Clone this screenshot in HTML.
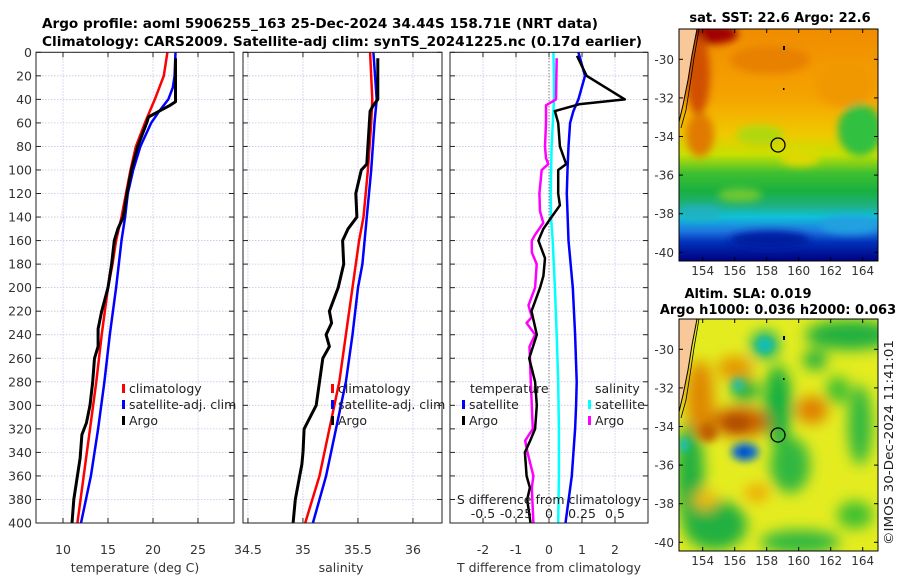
<!DOCTYPE html>
<html><head><meta charset="utf-8"><style>
html,body{margin:0;padding:0;background:#fff;}
svg{display:block;font-family:"DejaVu Sans","Liberation Sans",sans-serif;}
</style></head><body>
<svg id="fig" width="900" height="580" viewBox="0 0 900 580" xmlns="http://www.w3.org/2000/svg">
<defs>
<filter id="blur4" x="-50%" y="-50%" width="200%" height="200%"><feGaussianBlur stdDeviation="4"/></filter>
<filter id="blur7" x="-50%" y="-50%" width="200%" height="200%"><feGaussianBlur stdDeviation="7"/></filter>
<clipPath id="clipSST"><rect x="679" y="29" width="199" height="232"/></clipPath>
<clipPath id="clipSLA"><rect x="679" y="319" width="199" height="232"/></clipPath>
<linearGradient id="sstGrad" x1="0" y1="0" x2="0" y2="1">
<stop offset="0" stop-color="#f08c00"/><stop offset="0.3" stop-color="#f5a400"/>
<stop offset="0.45" stop-color="#f0c800"/><stop offset="0.54" stop-color="#c8e000"/>
<stop offset="0.62" stop-color="#40c030"/><stop offset="0.7" stop-color="#18b040"/>
<stop offset="0.76" stop-color="#20b080"/>
<stop offset="0.81" stop-color="#10c0d8"/><stop offset="0.87" stop-color="#1e78e0"/>
<stop offset="0.92" stop-color="#0030b8"/><stop offset="1" stop-color="#000080"/>
</linearGradient>
</defs>
<g font-weight="bold" font-size="13">
<text x="42" y="28" textLength="556" lengthAdjust="spacingAndGlyphs">Argo profile: aoml 5906255_163 25-Dec-2024 34.44S 158.71E (NRT data)</text>
<text x="42" y="46" textLength="600" lengthAdjust="spacingAndGlyphs">Climatology: CARS2009. Satellite-adj clim: synTS_20241225.nc (0.17d earlier)</text>
</g>
<g id="panels"></g>

<!-- SST map -->
<g>
<text x="780" y="22" text-anchor="middle" font-weight="bold" font-size="13">sat. SST: 22.6 Argo: 22.6</text>
<g clip-path="url(#clipSST)">
<rect x="679" y="29" width="199" height="232" fill="url(#sstGrad)"/>
<g filter="url(#blur4)">
<ellipse cx="712" cy="34" rx="26" ry="10" fill="#a00000"/>
<ellipse cx="698" cy="75" rx="12" ry="40" fill="#d05000"/>
<ellipse cx="700" cy="135" rx="14" ry="22" fill="#e07a00"/>
<ellipse cx="770" cy="60" rx="40" ry="14" fill="#e88000"/>
<ellipse cx="845" cy="85" rx="30" ry="22" fill="#f09800"/>
<ellipse cx="760" cy="135" rx="24" ry="10" fill="#b0d810"/>
<ellipse cx="860" cy="130" rx="22" ry="26" fill="#30c040"/>
<ellipse cx="800" cy="158" rx="20" ry="8" fill="#e0d800"/>
<ellipse cx="740" cy="195" rx="22" ry="7" fill="#70c830"/>
<ellipse cx="700" cy="213" rx="22" ry="7" fill="#20b0c0"/>
<ellipse cx="770" cy="240" rx="40" ry="9" fill="#001aa0"/>
<ellipse cx="850" cy="225" rx="30" ry="9" fill="#20a0e0"/>
</g>
<polygon points="679,29 697,29 692,55 688,80 683,105 679,120" fill="#f8c898"/>
<polyline points="697,29 692,55 688,80 683,105 679,122" fill="none" stroke="#000" stroke-width="1"/>
<polyline points="699,29 694,58 690,85 686,110 681,128" fill="none" stroke="#000" stroke-width="0.8"/>
<rect x="783" y="46" width="2" height="4" fill="#000"/><rect x="783" y="88" width="1.5" height="2" fill="#000"/>
<circle cx="778" cy="145" r="7" fill="none" stroke="#000" stroke-width="1.3"/>
</g>
<rect x="679" y="29" width="199" height="232" fill="none" stroke="#000" stroke-width="1"/>
<g id="sstAxes" font-size="12" fill="#333"></g>
</g>

<!-- SLA map -->
<g>
<text x="748" y="298" text-anchor="middle" font-weight="bold" font-size="13">Altim. SLA: 0.019</text>
<text x="778" y="314" text-anchor="middle" font-weight="bold" font-size="13">Argo h1000: 0.036 h2000: 0.063</text>
<g clip-path="url(#clipSLA)">
<rect x="679" y="319" width="199" height="232" fill="#e4ec20"/>
<g filter="url(#blur7)">
<ellipse cx="850" cy="335" rx="45" ry="15" fill="#20b040"/>
<ellipse cx="815" cy="360" rx="12" ry="10" fill="#20b040"/>
<ellipse cx="765" cy="345" rx="14" ry="14" fill="#10b070"/>
<ellipse cx="745" cy="390" rx="14" ry="12" fill="#20b040"/>
<ellipse cx="778" cy="405" rx="14" ry="40" fill="#18b040"/>
<ellipse cx="790" cy="465" rx="20" ry="28" fill="#30b840"/>
<ellipse cx="690" cy="475" rx="14" ry="55" fill="#20b040"/>
<ellipse cx="715" cy="525" rx="32" ry="25" fill="#20b040"/>
<ellipse cx="860" cy="425" rx="12" ry="40" fill="#30b840"/>
<ellipse cx="838" cy="390" rx="12" ry="14" fill="#40c030"/>
<ellipse cx="800" cy="542" rx="40" ry="12" fill="#30b840"/>
<ellipse cx="855" cy="515" rx="18" ry="14" fill="#40c030"/>
<ellipse cx="700" cy="398" rx="14" ry="38" fill="#e08800"/>
<ellipse cx="740" cy="422" rx="30" ry="15" fill="#c86000"/>
<ellipse cx="735" cy="368" rx="18" ry="12" fill="#e49800"/>
<ellipse cx="812" cy="410" rx="16" ry="14" fill="#e08000"/>
<ellipse cx="757" cy="493" rx="12" ry="8" fill="#f0a000"/>
<ellipse cx="705" cy="500" rx="12" ry="10" fill="#f0b800"/>
</g>
<g filter="url(#blur4)">
<ellipse cx="745" cy="452" rx="14" ry="9" fill="#1070d0"/>
<ellipse cx="744" cy="452" rx="5" ry="4" fill="#0030c0"/>
<ellipse cx="765" cy="345" rx="8" ry="7" fill="#10c0c0"/>
<ellipse cx="738" cy="385" rx="6" ry="6" fill="#10c0b0"/>
<ellipse cx="684" cy="445" rx="5" ry="7" fill="#10c0c0"/>
<ellipse cx="708" cy="432" rx="10" ry="10" fill="#c06000"/>
<ellipse cx="737" cy="423" rx="12" ry="7" fill="#b05000"/>
</g>
<polygon points="679,319 697,319 692,345 688,370 683,395 679,410" fill="#f8c898"/>
<polyline points="697,319 692,345 688,370 683,395 679,412" fill="none" stroke="#000" stroke-width="1"/>
<polyline points="699,319 694,348 690,375 686,400 681,418" fill="none" stroke="#000" stroke-width="0.8"/>
<rect x="783" y="336" width="2" height="4" fill="#000"/><rect x="783" y="378" width="1.5" height="2" fill="#000"/>
<circle cx="778" cy="435" r="7" fill="none" stroke="#000" stroke-width="1.3"/>
</g>
<rect x="679" y="319" width="199" height="232" fill="none" stroke="#000" stroke-width="1"/>
<g id="slaAxes" font-size="12" fill="#333"></g>
</g>
<text transform="translate(893,545) rotate(-90)" font-size="12.5" fill="#222" textLength="205" lengthAdjust="spacingAndGlyphs">©IMOS 30-Dec-2024 11:41:01</text>
</svg>
<script>
// ---- data ----
const depthTicks = [0,20,40,60,80,100,120,140,160,180,200,220,240,260,280,300,320,340,360,380,400];
const tempTicks = [10,15,20,25];
const salTicks = [34.5,35,35.5,36];
const salTickLabels = ["34.5","35","35.5","36"];
const diffTTicks = [-2,-1,0,1,2];
const diffSTicks = [-0.5,-0.25,0,0.25,0.5];
const diffSTickLabels = ["-0.5","-0.25","0","0.25","0.5"];

const climTDepth = [0,20,40,60,80,100,120,140,160,180,200,240,280,320,360,400];
const climTValues = [21.6,21.2,20.2,19.1,18.1,17.5,17.0,16.5,15.9,15.5,15.0,14.3,13.7,13.0,12.3,11.6];
const satTDepth = [0,20,30,40,50,60,80,100,120,140,160,180,200,240,280,320,360,400];
const satTValues = [22.5,22.4,22.2,21.7,20.7,19.8,18.6,17.8,17.2,16.9,16.5,16.2,15.9,15.2,14.6,13.9,13.1,12.0];
const argoTDepth = [5,40,42,45,50,55,60,80,100,120,140,150,160,180,200,220,235,250,260,280,300,315,325,345,360,380,400];
const argoTValues = [22.5,22.5,22.5,21.9,20.7,19.5,19.3,18.3,17.6,17.1,16.7,16.1,15.7,15.4,15.0,14.3,13.9,13.9,13.5,13.3,13.0,12.6,12.1,11.9,11.6,11.2,11.0];

const climSDepth = [0,40,60,100,140,160,200,240,280,320,360,400];
const climSValues = [35.61,35.63,35.62,35.59,35.55,35.51,35.45,35.39,35.33,35.24,35.15,35.02];
const satSDepth = [0,40,60,100,140,180,200,240,280,320,360,400];
const satSValues = [35.64,35.67,35.65,35.62,35.58,35.54,35.50,35.45,35.39,35.30,35.21,35.09];
const argoSDepth = [5,40,45,50,80,95,100,120,140,150,160,180,200,220,230,240,250,260,280,300,320,340,350,360,380,400];
const argoSValues = [35.68,35.68,35.64,35.61,35.59,35.58,35.53,35.48,35.49,35.41,35.36,35.37,35.32,35.24,35.26,35.21,35.24,35.18,35.15,35.12,35.01,35.0,34.99,34.97,34.93,34.91];

const dTsatDepth = [0,20,40,50,60,80,100,120,160,200,240,280,300,320,360,400];
const dTsatValues = [0.89,1.09,0.89,0.74,0.64,0.59,0.56,0.54,0.59,0.72,0.79,0.84,0.82,0.79,0.69,0.50];
const dTargoDepth = [3,20,40,44,50,60,80,95,100,120,130,140,150,160,175,190,200,220,240,260,280,300,320,330,340,360,370,380,400];
const dTargoValues = [0.85,1.14,2.3,0.94,0.18,0.28,0.33,0.52,0.28,0.28,0.33,0.08,-0.17,-0.32,-0.12,-0.17,-0.27,-0.53,-0.37,-0.60,-0.42,-0.37,-0.42,-0.57,-0.73,-0.68,-0.58,-0.66,-0.56];
const dSsatDepth = [0,20,40,80,120,140,160,200,240,280,320,360,400];
const dSsatValues = [0.033,0.038,0.038,0.020,0.013,0.015,0.028,0.045,0.058,0.070,0.075,0.075,0.070];
const dSargoDepth = [5,40,45,60,80,90,95,100,120,135,145,155,160,170,180,200,215,225,230,240,250,280,300,320,330,340,360,370,400];
const dSargoValues = [0.058,0.053,-0.023,-0.023,-0.030,-0.023,-0.005,-0.055,-0.073,-0.068,-0.043,-0.105,-0.13,-0.13,-0.093,-0.105,-0.155,-0.13,-0.17,-0.105,-0.148,-0.138,-0.13,-0.123,-0.18,-0.163,-0.118,-0.13,-0.118];

const latTicks = [-30,-32,-34,-36,-38,-40];
const lonTicks = [154,156,158,160,162,164];

// ---- drawing ----
const NS = "http://www.w3.org/2000/svg";
const root = document.getElementById('panels');
function el(tag, attrs, parent){ const e=document.createElementNS(NS,tag); for(const k in attrs) e.setAttribute(k,attrs[k]); (parent||root).appendChild(e); return e; }
const Y0=52.3, Y1=523;
function yDepth(d){ return Y0 + d/400*(Y1-Y0); }
function mkX(p){ return v => p.x0 + (v-p.xmin)/(p.xmax-p.xmin)*(p.x1-p.x0); }

const P1={x0:36,x1:234,xmin:7,xmax:29};
const P2={x0:243,x1:442,xmin:34.455,xmax:36.264};
const P3={x0:450,x1:648,xmin:-3,xmax:3};
const P3S={x0:450,x1:648,xmin:-0.75,xmax:0.75};

function frame(p, name, xt, xlabels, gridTicks){
  const sx=mkX(p);
  const g=el('g',{});
  
  
  depthTicks.forEach(d=>{
    const y=yDepth(d);
    el('line',{x1:p.x0,x2:p.x1,y1:y,y2:y,stroke:'#c4c4e4','stroke-width':0.8,'stroke-dasharray':'1.5,1.5'},g);
    el('line',{x1:p.x0,x2:p.x0+5,y1:y,y2:y,stroke:'#222'},g);
    el('line',{x1:p.x1-5,x2:p.x1,y1:y,y2:y,stroke:'#222'},g);
  });
  gridTicks.forEach(v=>{
    const x=sx(v);
    el('line',{x1:x,x2:x,y1:Y0,y2:Y1,stroke:'#c4c4e4','stroke-width':0.8,'stroke-dasharray':'1.5,1.5'},g);
    el('line',{x1:x,x2:x,y1:Y0,y2:Y0+5,stroke:'#222'},g);
    el('line',{x1:x,x2:x,y1:Y1-5,y2:Y1,stroke:'#222'},g);
  });
  xt.forEach((v,i)=>{
    const t=el('text',{x:sx(v),y:554,'text-anchor':'middle','font-size':12.5,fill:'#333'},g);
    t.textContent=xlabels[i];
    
    
  });
  return {g,sx};
}
function line(g, sx, depths, vals, color, w, name){
  const pts=depths.map((d,i)=>sx(vals[i]).toFixed(1)+','+yDepth(d).toFixed(1)).join(' ');
  const pl=el('polyline',{points:pts,fill:'none',stroke:color,'stroke-width':w,'stroke-linejoin':'round'},g);
  
  
}
function legend(g,x,y,color,label,name){
  const lg=el('g',{},g);
  
  
  el('rect',{x:x,y:y-9,width:3,height:9,fill:color},lg);
  const t=el('text',{x:x+7,y:y,'font-size':12.5,fill:'#222'},lg); t.textContent=label;
}

// Panel 1
let f=frame(P1,'temperature-panel',tempTicks,tempTicks.map(String),tempTicks);
line(f.g,f.sx,climTDepth,climTValues,'#ff0000',2.5,'temperature-climatology-line');
line(f.g,f.sx,satTDepth,satTValues,'#0000ff',2.5,'temperature-satellite-line');
line(f.g,f.sx,argoTDepth,argoTValues,'#000',3,'temperature-argo-line');
depthTicks.forEach(d=>{ const t=el('text',{x:32,y:yDepth(d)+4.5,'text-anchor':'end','font-size':12.5,fill:'#333'},f.g); t.textContent=d;
    });
let t=el('text',{x:135,y:572,'text-anchor':'middle','font-size':12.5,fill:'#333'},f.g); t.textContent='temperature (deg C)';
 
legend(f.g,122,393,'#ff0000','climatology','legend-climatology');
legend(f.g,122,409,'#0000ff','satellite-adj. clim','legend-satellite');
legend(f.g,122,425,'#000','Argo','legend-argo');
el('rect',{x:P1.x0,y:Y0,width:P1.x1-P1.x0,height:Y1-Y0,fill:'none',stroke:'#222','stroke-width':1},f.g);

// Panel 2
f=frame(P2,'salinity-panel',salTicks,salTickLabels,salTicks);
line(f.g,f.sx,climSDepth,climSValues,'#ff0000',2.5,'salinity-climatology-line');
line(f.g,f.sx,satSDepth,satSValues,'#0000ff',2.5,'salinity-satellite-line');
line(f.g,f.sx,argoSDepth,argoSValues,'#000',3,'salinity-argo-line');
t=el('text',{x:341,y:572,'text-anchor':'middle','font-size':12.5,fill:'#333'},f.g); t.textContent='salinity';
 
legend(f.g,331,393,'#ff0000','climatology','legend-climatology');
legend(f.g,331,409,'#0000ff','satellite-adj. clim','legend-satellite');
legend(f.g,331,425,'#000','Argo','legend-argo');
el('rect',{x:P2.x0,y:Y0,width:P2.x1-P2.x0,height:Y1-Y0,fill:'none',stroke:'#222','stroke-width':1},f.g);

// Panel 3
f=frame(P3,'difference-panel',diffTTicks,diffTTicks.map(String),diffTTicks);
const sxS=mkX(P3S);
el('line',{x1:f.sx(0),x2:f.sx(0),y1:Y0,y2:Y1,stroke:'#555','stroke-width':1,'stroke-dasharray':'1,2'},f.g);
line(f.g,f.sx,dTsatDepth,dTsatValues,'#0000ff',2.5,'tdiff-satellite-line');
line(f.g,sxS,dSsatDepth,dSsatValues,'#00ffff',2.5,'sdiff-satellite-line');
line(f.g,sxS,dSargoDepth,dSargoValues,'#ff00ff',2.5,'sdiff-argo-line');
line(f.g,f.sx,dTargoDepth,dTargoValues,'#000',2.5,'tdiff-argo-line');
t=el('text',{x:549,y:572,'text-anchor':'middle','font-size':12.5,fill:'#333'},f.g); t.textContent='T difference from climatology';
 
t=el('text',{x:549,y:504,'text-anchor':'middle','font-size':12.5,fill:'#222'},f.g); t.textContent='S difference from climatology';
 
diffSTicks.forEach((v,i)=>{ const tt=el('text',{x:sxS(v),y:518,'text-anchor':'middle','font-size':12.5,fill:'#222'},f.g); tt.textContent=diffSTickLabels[i];
    });
t=el('text',{x:470,y:393,'font-size':12.5,fill:'#222'},f.g); t.textContent='temperature';
 
t=el('text',{x:595,y:393,'font-size':12.5,fill:'#222'},f.g); t.textContent='salinity';
 
legend(f.g,462,409,'#0000ff','satellite','legend-t-satellite');
legend(f.g,462,425,'#000','Argo','legend-t-argo');
legend(f.g,588,409,'#00ffff','satellite','legend-s-satellite');
legend(f.g,588,425,'#ff00ff','Argo','legend-s-argo');
el('rect',{x:P3.x0,y:Y0,width:P3.x1-P3.x0,height:Y1-Y0,fill:'none',stroke:'#222','stroke-width':1},f.g);

// Map axes
function mapAxes(id, top, latRef){
  const g=document.getElementById(id);
  latTicks.forEach(l=>{
    const y=latRef + (-30-l)*19.3;
    el('line',{x1:679,x2:683,y1:y,y2:y,stroke:'#000'},g); el('line',{x1:874,x2:878,y1:y,y2:y,stroke:'#000'},g);
    const tt=el('text',{x:674,y:y+4.5,'text-anchor':'end'},g); tt.textContent='-'+Math.abs(l);
     
  });
  lonTicks.forEach(lo=>{
    const x=702.7+(lo-154)*16;
    el('line',{x1:x,x2:x,y1:top+232-4,y2:top+232,stroke:'#000'},g); el('line',{x1:x,x2:x,y1:top,y2:top+4,stroke:'#000'},g);
    const tt=el('text',{x:x,y:top+246,'text-anchor':'middle'},g); tt.textContent=lo;
     
  });
}
mapAxes('sstAxes',29,59.3);
mapAxes('slaAxes',319,349.3);
</script>
</body></html>
